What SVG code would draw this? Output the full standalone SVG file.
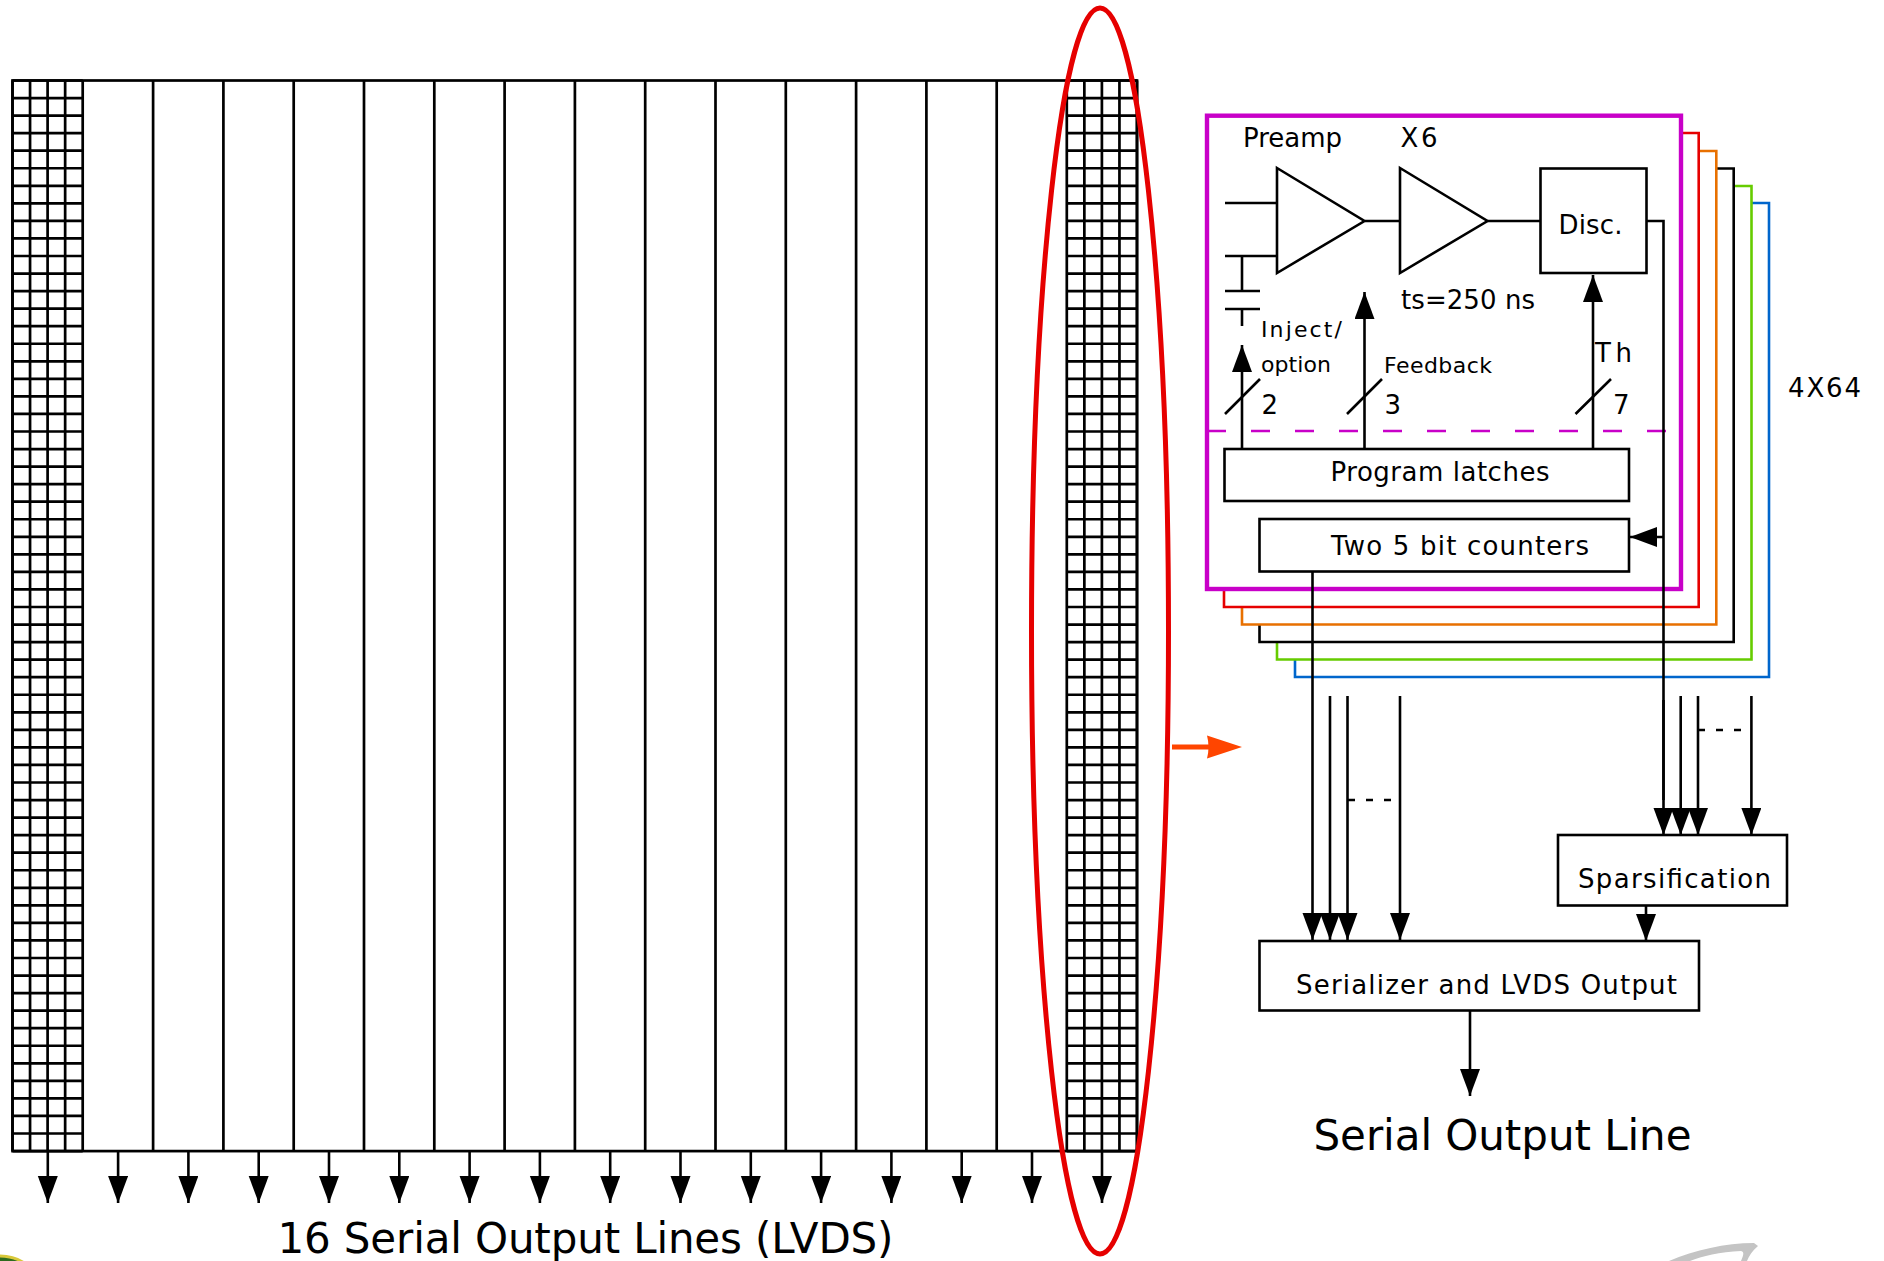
<svg xmlns="http://www.w3.org/2000/svg" width="1884" height="1261" viewBox="0 0 1884 1261">
<style>
text{font-family:"DejaVu Sans","Liberation Sans",sans-serif;fill:#000;font-size:26px}
.s{font-size:22px}
.l{font-size:42px}
.ln,.box,.g{fill:none;stroke:#000;stroke-width:2.6}
.box{fill:#fff}
.g{stroke-width:2.7}
.a{fill:none;stroke:#000;stroke-width:2.6;marker-end:url(#ah)}
.c{fill:none;stroke-width:2.6}
</style>
<defs>
<marker id="ah" markerUnits="userSpaceOnUse" markerWidth="30" markerHeight="22" refX="27" refY="10" orient="auto"><path d="M0 0L27 10L0 20Z" fill="#000"/></marker>
<path id="rows" d="M12.5 80.5h70.2
m-70.2 17.55h70.2m-70.2 17.55h70.2m-70.2 17.55h70.2m-70.2 17.55h70.2m-70.2 17.55h70.2m-70.2 17.55h70.2m-70.2 17.55h70.2m-70.2 17.55h70.2m-70.2 17.55h70.2m-70.2 17.55h70.2
m-70.2 17.55h70.2m-70.2 17.55h70.2m-70.2 17.55h70.2m-70.2 17.55h70.2m-70.2 17.55h70.2m-70.2 17.55h70.2m-70.2 17.55h70.2m-70.2 17.55h70.2m-70.2 17.55h70.2m-70.2 17.55h70.2
m-70.2 17.55h70.2m-70.2 17.55h70.2m-70.2 17.55h70.2m-70.2 17.55h70.2m-70.2 17.55h70.2m-70.2 17.55h70.2m-70.2 17.55h70.2m-70.2 17.55h70.2m-70.2 17.55h70.2m-70.2 17.55h70.2
m-70.2 17.55h70.2m-70.2 17.55h70.2m-70.2 17.55h70.2m-70.2 17.55h70.2m-70.2 17.55h70.2m-70.2 17.55h70.2m-70.2 17.55h70.2m-70.2 17.55h70.2m-70.2 17.55h70.2m-70.2 17.55h70.2
m-70.2 17.55h70.2m-70.2 17.55h70.2m-70.2 17.55h70.2m-70.2 17.55h70.2m-70.2 17.55h70.2m-70.2 17.55h70.2m-70.2 17.55h70.2m-70.2 17.55h70.2m-70.2 17.55h70.2m-70.2 17.55h70.2
m-70.2 17.55h70.2m-70.2 17.55h70.2m-70.2 17.55h70.2m-70.2 17.55h70.2m-70.2 17.55h70.2m-70.2 17.55h70.2m-70.2 17.55h70.2m-70.2 17.55h70.2m-70.2 17.55h70.2m-70.2 17.55h70.2
m-70.2 17.55h70.2"/>
<path id="cols" d="M12.5 80.5v1070.6M30.05 80.5v1070.6M47.6 80.5v1070.6M65.15 80.5v1070.6M82.7 80.5v1070.6"/>
</defs>

<g id="logo-left"><ellipse cx="0" cy="1285" rx="37" ry="29" fill="#2d6b1e" stroke="#d8c83a" stroke-width="3"/></g>
<g id="logo-right"><path d="M1669 1261C1695 1250 1725 1243 1754 1243L1758 1246C1752 1251 1749 1256 1747 1261L1741 1261C1743 1256 1745 1252 1741 1251C1720 1252 1702 1256 1690 1261Z" fill="#c4c4c4"/></g>

<g id="pixel-matrix">
<rect x="12.5" y="80.5" width="1124.5" height="1070.6" fill="#fff" stroke="#000" stroke-width="2.7"/>
<g id="grid-left" class="g"><use href="#rows"/><use href="#cols"/></g>
<path class="g" d="M153.1 80.5v1070.6M223.4 80.5v1070.6M293.7 80.5v1070.6M364 80.5v1070.6M434.3 80.5v1070.6M504.6 80.5v1070.6M574.9 80.5v1070.6M645.2 80.5v1070.6M715.5 80.5v1070.6M785.8 80.5v1070.6M856.1 80.5v1070.6M926.4 80.5v1070.6M996.7 80.5v1070.6"/>
<g id="grid-right" class="g" transform="translate(1054.3 0)"><use href="#rows"/><use href="#cols"/></g>
</g>

<g id="connectors">
<g id="matrix-outputs">
<path class="a" d="M47.8 1151V1203"/><path class="a" d="M118.1 1151V1203"/><path class="a" d="M188.4 1151V1203"/><path class="a" d="M258.7 1151V1203"/><path class="a" d="M329 1151V1203"/><path class="a" d="M399.3 1151V1203"/><path class="a" d="M469.6 1151V1203"/><path class="a" d="M539.9 1151V1203"/><path class="a" d="M610.2 1151V1203"/><path class="a" d="M680.5 1151V1203"/><path class="a" d="M750.8 1151V1203"/><path class="a" d="M821.1 1151V1203"/><path class="a" d="M891.4 1151V1203"/><path class="a" d="M961.7 1151V1203"/><path class="a" d="M1032 1151V1203"/><path class="a" d="M1102 1151V1203"/>
</g>
</g>

<g id="selection-ellipse"><ellipse cx="1100" cy="631" rx="68.5" ry="623" fill="none" stroke="#e60000" stroke-width="5"/></g>
<g id="zoom-arrow"><path d="M1172 747H1209" stroke="#ff4500" stroke-width="5" fill="none"/><path d="M1207 735.5L1242 747L1207 758.5Q1210 747 1207 735.5Z" fill="#ff4500"/></g>

<g id="channel-stack">
<path class="c" stroke="#0066cc" d="M1751 203H1769V677H1295V659"/>
<path class="c" stroke="#66cc00" d="M1734 186H1751.5V659.5H1277V642"/>
<path class="c" stroke="#000" d="M1716 168.5H1733.7V642H1259.5V624"/>
<path class="c" stroke="#e87000" d="M1699 151H1716.3V624.5H1242V607"/>
<path class="c" stroke="#e60000" d="M1681 133H1698.7V607H1224V589"/>
<rect id="channel-frame" x="1207" y="115.7" width="474" height="473.3" fill="none" stroke="#c800c8" stroke-width="4.4"/>
<path d="M1207 431H1666" fill="none" stroke="#c800c8" stroke-width="2.4" stroke-dasharray="19 25"/>
</g>

<g id="connectors-channel">
<path class="ln" d="M1225 203H1277M1225 256H1277M1242 256V291M1225 291H1260M1225 309H1260M1242 309V326"/>
<path class="ln" d="M1365 221H1400M1487.5 221H1540"/>
<path class="ln" d="M1225 414L1260 379M1347 414L1382 379M1575.5 414L1611 379"/>
<path class="a" d="M1242 449V345"/>
<path class="a" d="M1364.5 449V292"/>
<path class="a" d="M1593 449V275"/>
<path class="ln" d="M1647 221H1663.5V800"/>
<path class="a" d="M1663.5 537H1630"/>
<path class="a" d="M1663.5 700V835"/>
<path class="a" d="M1680.7 696V835"/>
<path class="a" d="M1698 696V835"/>
<path class="a" d="M1751.4 696V835"/>
<path class="a" d="M1312.5 572V940"/>
<path class="a" d="M1330 696V940"/>
<path class="a" d="M1347.5 696V940"/>
<path class="a" d="M1400 696V940"/>
<path class="ln" stroke-dasharray="7 11" d="M1348 800H1400"/>
<path class="ln" stroke-dasharray="7 11" d="M1698 730H1751"/>
<path class="a" d="M1646 906V941"/>
<path class="a" d="M1470 1011V1096"/>
</g>

<g id="preamp"><path class="box" d="M1277 168L1364.5 221L1277 273Z"/><text x="1243" y="147" textLength="99">Preamp</text></g>
<g id="x6"><path class="box" d="M1400 168L1487.5 221L1400 273Z"/><text x="1400.5" y="147" textLength="37">X6</text></g>
<g id="disc"><rect class="box" x="1540.5" y="168.5" width="106" height="104.5"/><text x="1558.5" y="234" textLength="64">Disc.</text></g>
<g id="program-latches"><rect class="box" x="1224.5" y="449" width="404.5" height="52"/><text x="1330.5" y="481" textLength="219">Program latches</text></g>
<g id="counters"><rect class="box" x="1259.5" y="519" width="369.5" height="52.5"/><text x="1331" y="555" textLength="258">Two 5 bit counters</text></g>
<g id="sparsification"><rect class="box" x="1558" y="835" width="229" height="70.5"/><text x="1578" y="888" textLength="193">Sparsification</text></g>
<g id="serializer"><rect class="box" x="1259.5" y="941" width="439.5" height="69.5"/><text x="1296" y="994" textLength="381">Serializer and LVDS Output</text></g>

<g id="labels">
<text x="1401" y="308.5" textLength="134">ts=250 ns</text>
<text class="s" x="1261" y="337" textLength="81">Inject/</text>
<text class="s" x="1261" y="372" textLength="70">option</text>
<text x="1261.5" y="414">2</text>
<text class="s" x="1384" y="373" textLength="108">Feedback</text>
<text x="1384.5" y="414">3</text>
<text x="1595" y="362" textLength="37">Th</text>
<text x="1613" y="414">7</text>
<text x="1788" y="397" textLength="73">4X64</text>
<text class="l" x="1313.5" y="1150" textLength="378">Serial Output Line</text>
<text class="l" x="277.5" y="1253" textLength="616">16 Serial Output Lines (LVDS)</text>
</g>
</svg>
